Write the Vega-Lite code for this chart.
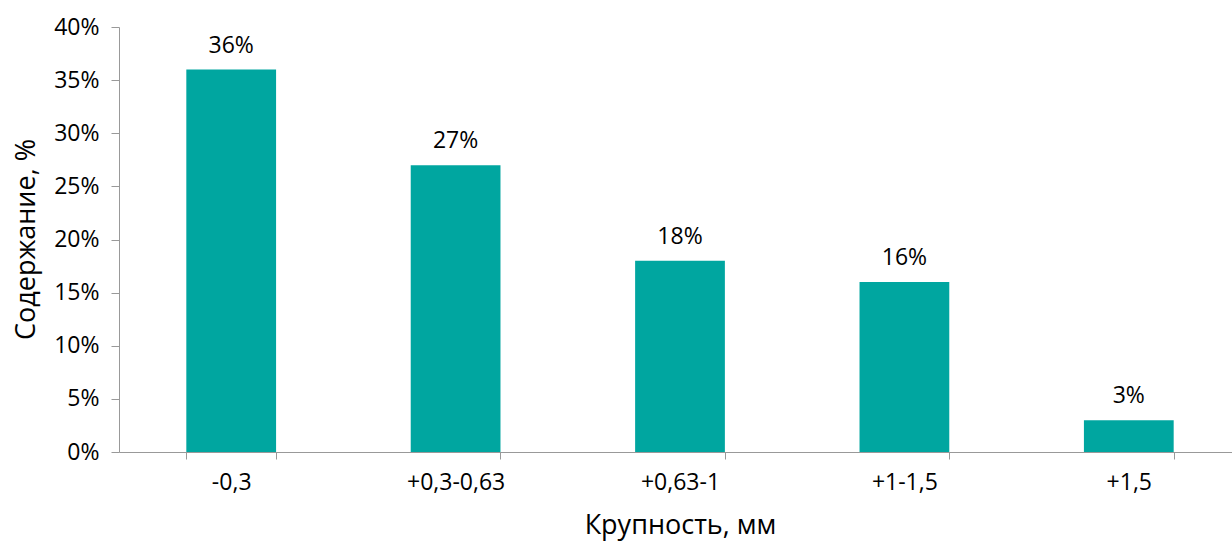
{
  "$schema": "https://vega.github.io/schema/vega-lite/v6.json",
  "autosize": "none",
  "padding": {"left": 119, "top": 27, "right": 0, "bottom": 89},
  "width": 1122,
  "height": 425,
  "background": "white",
  "config": {"view": {"stroke": null}, "font": "Open Sans"},
  "data": {"values": [
    {"size": "-0,3", "value": 0.36},
    {"size": "+0,3-0,63", "value": 0.27},
    {"size": "+0,63-1", "value": 0.18},
    {"size": "+1-1,5", "value": 0.16},
    {"size": "+1,5", "value": 0.03}
  ]},
  "encoding": {
    "x": {"field": "size", "type": "nominal", "sort": null,
      "scale": {"paddingInner": 0.6, "paddingOuter": 0.3},
      "axis": {"title": "Крупность, мм", "labelAngle": 0, "labelFontSize": 23, "labelColor": "#000", "labelPadding": 12,
        "tickBand": "extent", "tickSize": 7, "tickColor": "#999", "domainColor": "#999",
        "titleFontSize": 27, "titleFontWeight": "normal", "titleColor": "#000", "titleY": 73, "titleBaseline": "middle"}},
    "y": {"field": "value", "type": "quantitative",
      "scale": {"domain": [0, 0.4]},
      "axis": {"title": "Содержание, %", "format": ".0%", "values": [0,0.05,0.1,0.15,0.2,0.25,0.3,0.35,0.4],
        "grid": false, "labelFontSize": 23, "labelColor": "#000", "labelPadding": 12, "tickSize": 8,
        "tickColor": "#999", "domainColor": "#999", "titleFontSize": 27, "titleFontWeight": "normal",
        "titleColor": "#000", "titleX": -93, "titleY": 212, "titleAngle": -90, "titleBaseline": "middle", "titleAlign": "center"}}
  },
  "layer": [
    {"mark": {"type": "bar", "color": "#00A6A0"}},
    {"mark": {"type": "text", "dy": -24, "fontSize": 23, "color": "#000"},
     "encoding": {"text": {"field": "value", "format": ".0%"}}}
  ]
}
